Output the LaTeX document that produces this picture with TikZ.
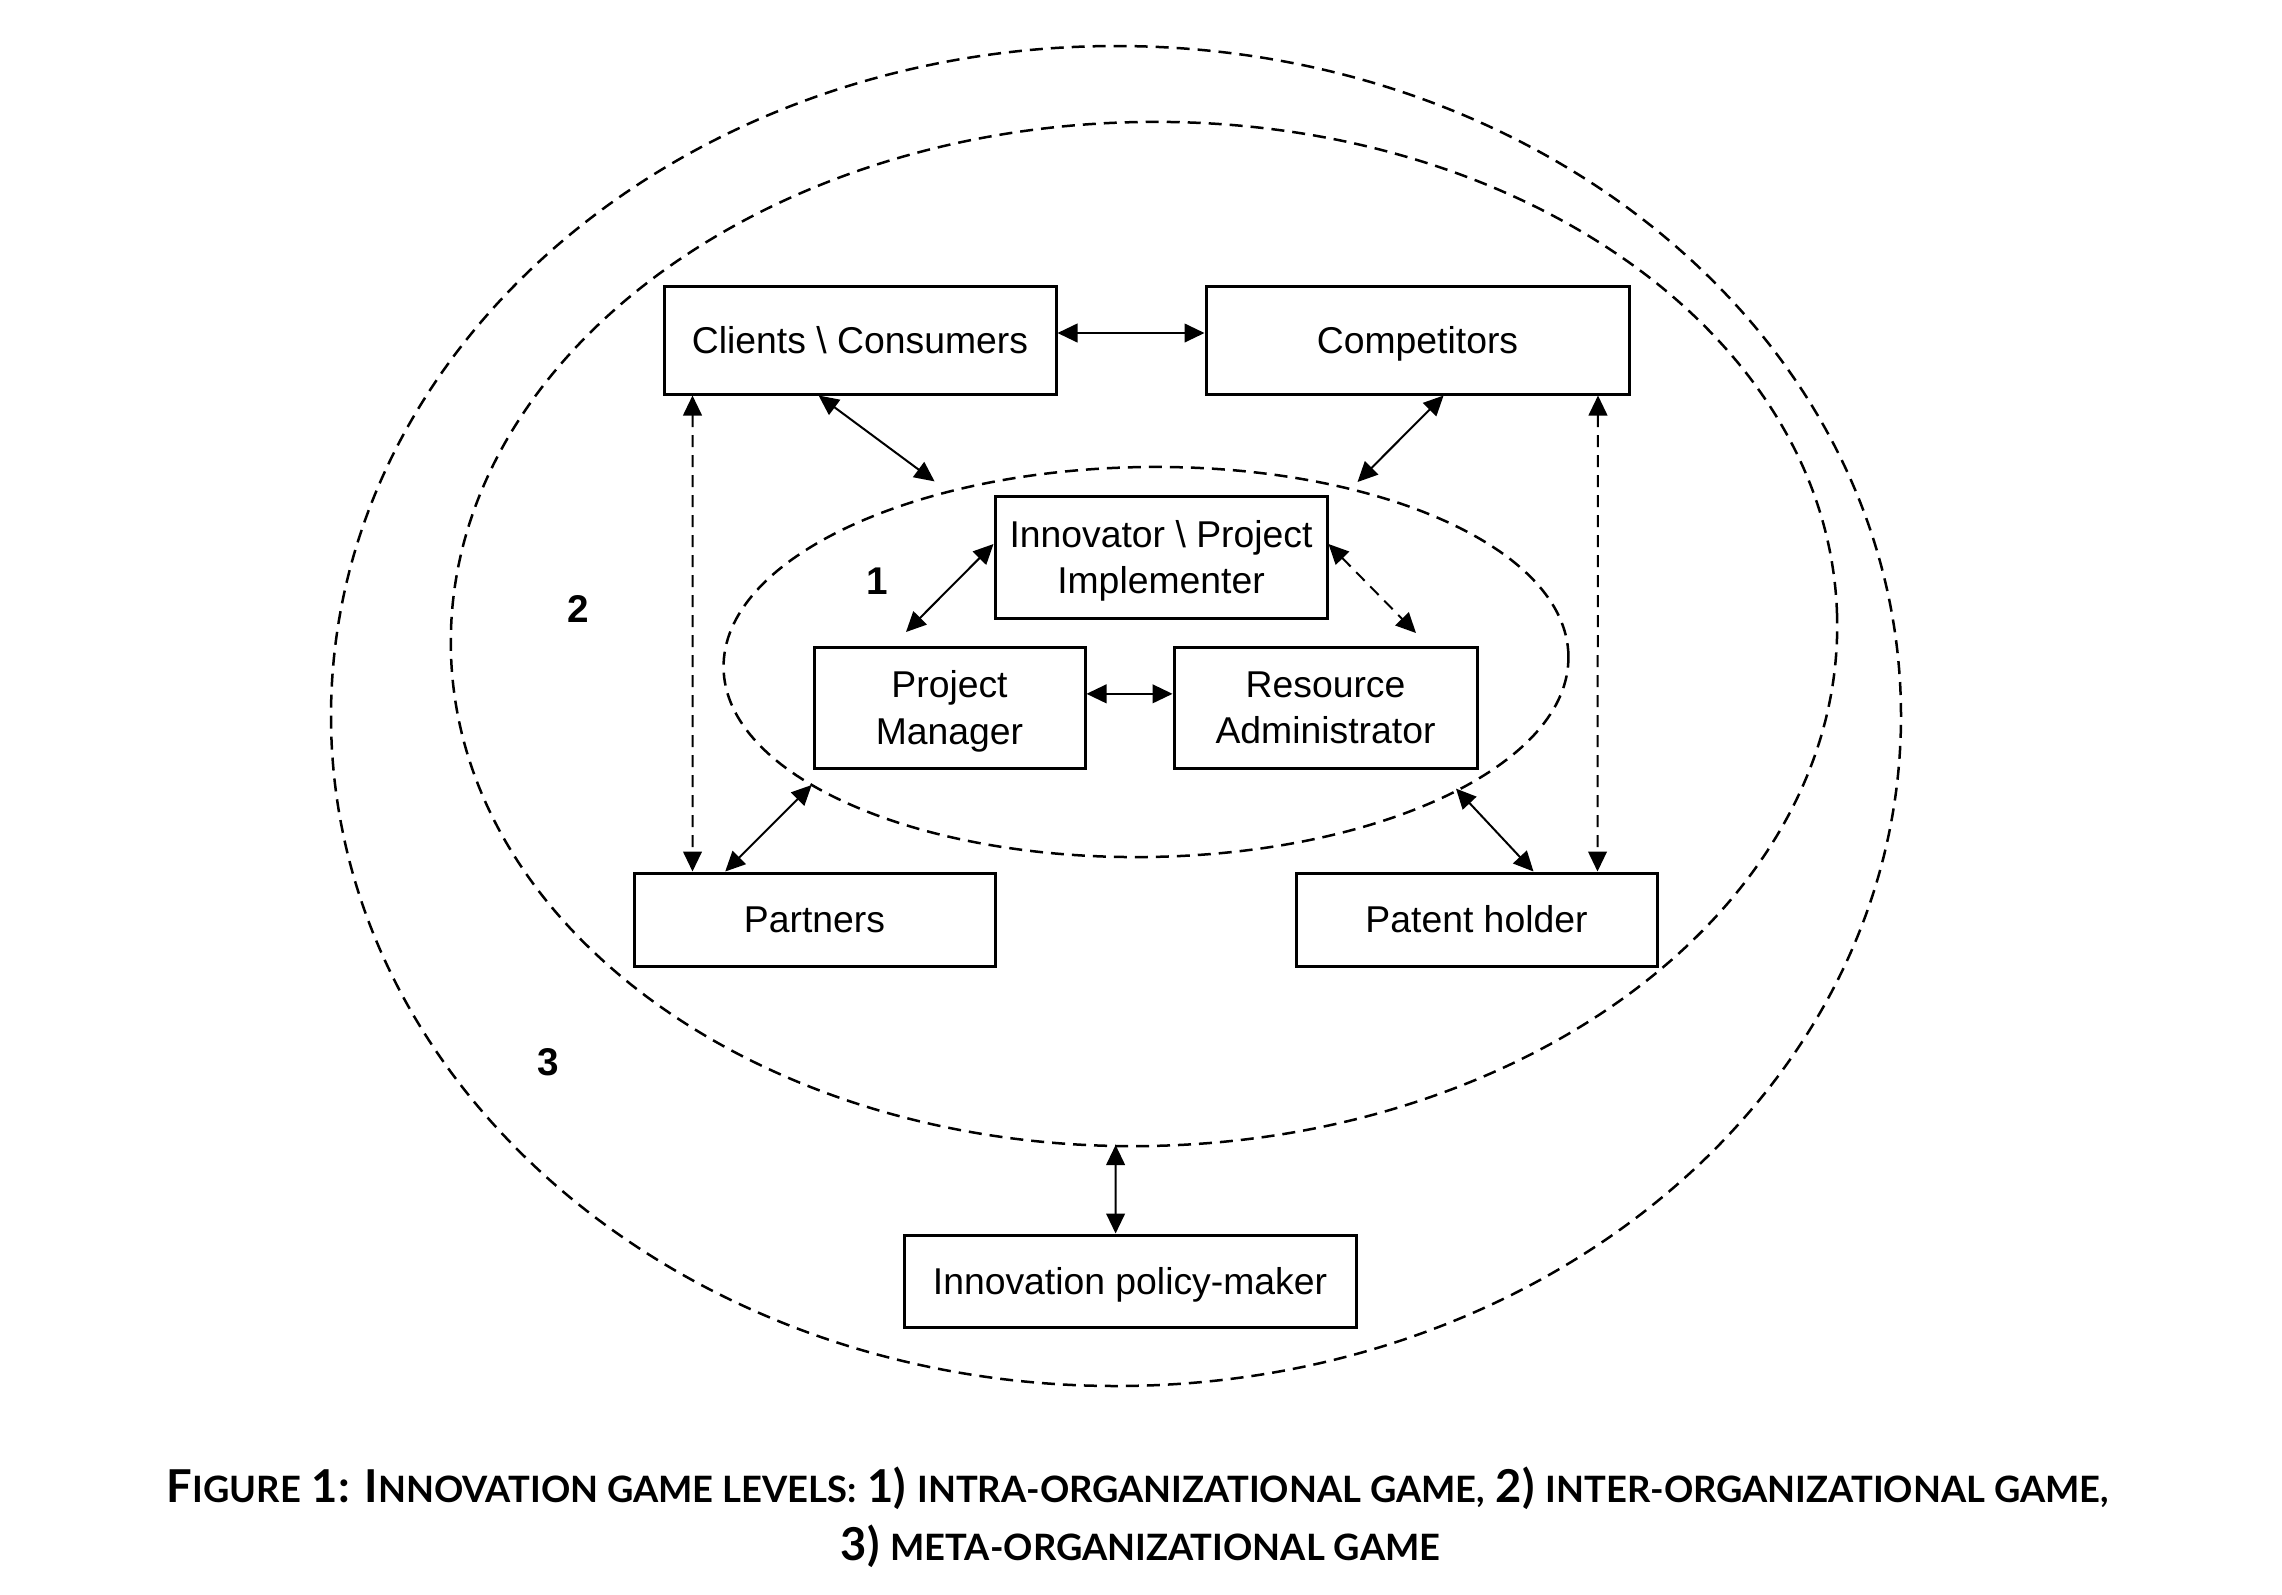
\documentclass[tikz,border=0pt]{standalone}
\usepackage{fontspec}
\setmainfont{Liberation Sans}
\newfontfamily\capfont{Lato}
\usetikzlibrary{arrows.meta,calc}
\newcommand\capsm[1]{{\fontsize{10.9}{13}\selectfont #1}}
\newcommand\topstrut{\rule{0pt}{10.4pt}}
\begin{document}
\begin{tikzpicture}[x=0.3pt,y=-0.3pt,
  box/.style={draw, line width=0.9pt, inner sep=0pt, align=center, font=\fontsize{11.2}{13.9}\selectfont},
  onebox/.style={box, text height=10pt, text depth=2pt},
  link/.style={line width=0.6pt, {Triangle[length=6pt,width=5.6pt]}-{Triangle[length=6pt,width=5.6pt]}},
  dlink/.style={link, dash pattern=on 3.6pt off 2.4pt},
  zone/.style={line width=0.75pt, dash pattern=on 3.9pt off 2.4pt},
  lvl/.style={font=\fontsize{11.6}{12}\selectfont\bfseries},
  captext/.style={font=\capfont\bfseries\fontsize{13.6}{16}\selectfont, anchor=base, inner sep=0pt}]
\useasboundingbox (0,0) rectangle (2282,1594);

% zones
\draw[zone] (1116,716) ellipse [x radius=235.5pt, y radius=201pt];
\draw[zone, rotate around={1.5:(1144,634)}] (1144,634) ellipse [x radius=208pt, y radius=153.6pt];
\draw[zone, rotate around={0.8:(1146,662)}] (1146,662) ellipse [x radius=126.75pt, y radius=58.5pt];

% boxes
\node[onebox, minimum width=117.6pt, minimum height=32.4pt] (cl) at (860,340) {Clients \textbackslash{} Consumers};
\node[onebox, minimum width=126.9pt, minimum height=32.4pt] (co) at (1417.5,340) {Competitors};
\node[box, minimum width=99.6pt, minimum height=36.6pt] (in) at (1161,557) {\topstrut Innovator \textbackslash{} Project\\Implementer};
\node[box, minimum width=81.3pt, minimum height=36.3pt] (pm) at (949.5,707.5) {\topstrut Project\\Manager};
\node[box, minimum width=90.9pt, minimum height=36.3pt] (ra) at (1325.5,707.5) {Resource\\Administrator};
\node[onebox, minimum width=108.3pt, minimum height=27.9pt] (pa) at (814.5,919.5) {Partners};
\node[onebox, minimum width=108.3pt, minimum height=27.9pt] (ph) at (1476.5,919.5) {Patent holder};
\node[onebox, minimum width=135.6pt, minimum height=27.6pt] (po) at (1130,1281) {Innovation policy-maker};

% level labels
\node[lvl] (l1) at (877,581) {1};
\node[lvl] (l2) at (578,609) {2};
\node[lvl] (l3) at (548,1062) {3};

% free ends on the zones
\coordinate (eB) at (934.6,481.4);
\coordinate (eC) at (1357.5,482);
\coordinate (eF) at (906,632);
\coordinate (eG) at (1416,633);
\coordinate (eI) at (811.7,785);
\coordinate (eJ) at (1456,788.6);
\coordinate (eK) at (1115.6,1145);

% connectors
\draw[link] ([yshift=2.1pt]cl.east) -- ([yshift=2.1pt]co.west);
\draw[link] ($(cl.south)+(-41.4,0)$) -- (eB);
\draw[link] ($(co.south)+(26.1,0)$) -- (eC);
\draw[dlink] ($(cl.south west)+(30,0)$) -- ($(pa.north west)+(60,0)$);
\draw[dlink] ($(co.south east)+(-32.5,0)$) -- ($(ph.north east)+(-61,0)$);
\draw[link] ([yshift=3.9pt]in.west) -- (eF);
\draw[dlink] ([yshift=3.9pt]in.east) -- (eG);
\draw[link] ([yshift=4.1pt]pm.east) -- ([yshift=4.1pt]ra.west);
\draw[link] ($(pa.north west)+(92.7,0)$) -- (eI);
\draw[link] ($(ph.north west)+(239,0)$) -- (eJ);
\draw[link] ($(po.north)+(-14.4,0)$) -- (eK);

% caption
\node[captext] (cap1) at (1138,1502) {F\capsm{IGURE} 1: I\capsm{NNOVATION GAME LEVELS:} 1) \capsm{INTRA-ORGANIZATIONAL GAME,} 2) \capsm{INTER-ORGANIZATIONAL GAME,}};
\node[captext] (cap2) at (1140.5,1560) {3) \capsm{META-ORGANIZATIONAL GAME}};
\end{tikzpicture}
\end{document}
